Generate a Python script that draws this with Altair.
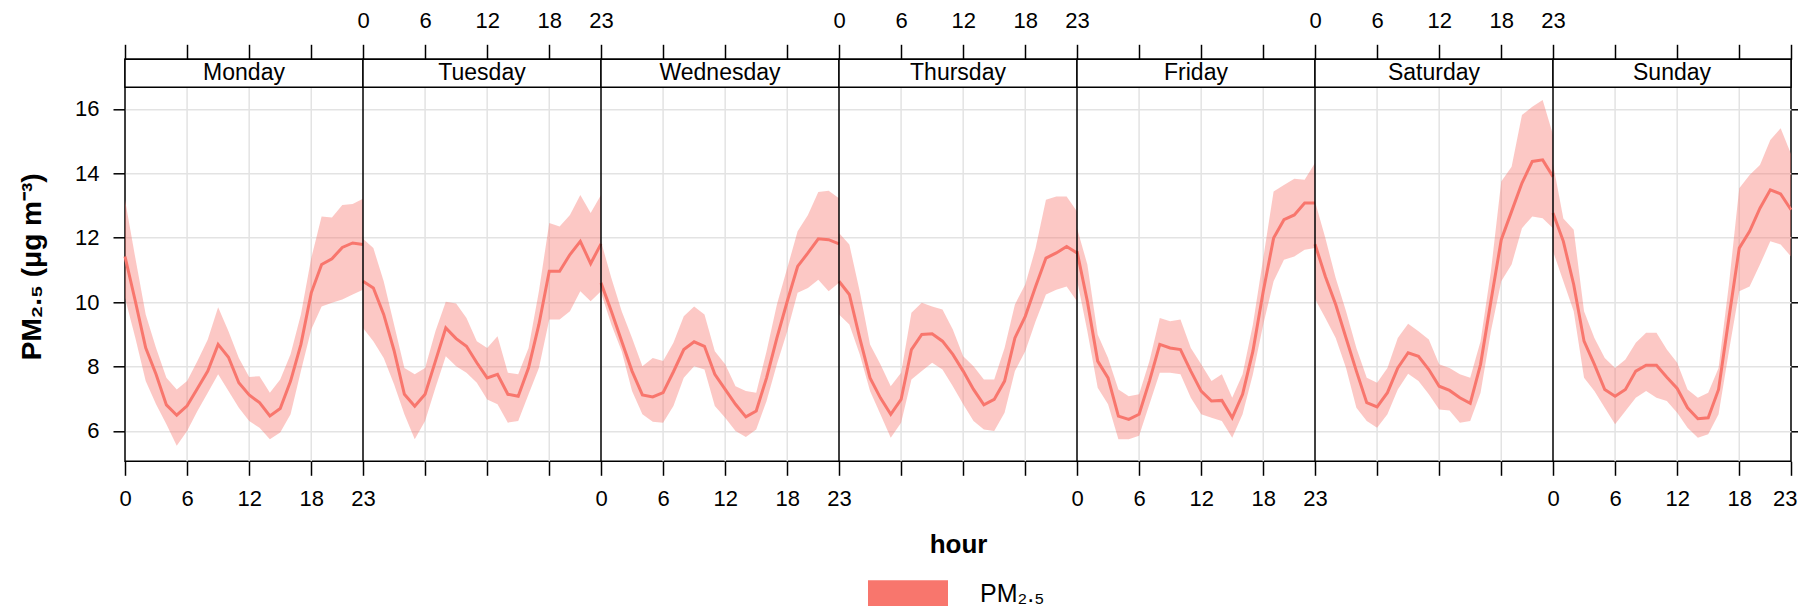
import altair as alt
import pandas as pd

DAYS = ["Monday", "Tuesday", "Wednesday", "Thursday", "Friday", "Saturday", "Sunday"]
HOURS = list(range(24))
SERIES = "PM₂.₅"
COLOR = "#F8766D"

MON_MEAN = [11.42, 10.03, 8.58, 7.76, 6.81, 6.49, 6.78, 7.32, 7.86, 8.69, 8.29, 7.50, 7.12, 6.88, 6.47, 6.70, 7.55, 8.69, 10.29, 11.17, 11.35, 11.70, 11.84, 11.79]
MON_LO = [10.13, 8.89, 7.55, 6.83, 6.21, 5.54, 6.00, 6.62, 7.19, 7.76, 7.24, 6.72, 6.31, 6.10, 5.74, 5.95, 6.52, 7.86, 9.15, 9.87, 9.98, 10.08, 10.24, 10.39]
MON_HI = [13.18, 11.37, 9.62, 8.58, 7.65, 7.29, 7.55, 8.17, 8.84, 9.84, 9.10, 8.27, 7.68, 7.70, 7.19, 7.60, 8.38, 9.62, 11.37, 12.66, 12.63, 13.02, 13.05, 13.21]

TUE_MEAN = [10.65, 10.44, 9.62, 8.50, 7.14, 6.77, 7.14, 8.17, 9.20, 8.87, 8.63, 8.12, 7.65, 7.76, 7.14, 7.08, 7.96, 9.31, 10.96, 10.96, 11.48, 11.89, 11.20, 11.81]
TUE_LO = [9.20, 8.79, 8.27, 7.45, 6.52, 5.74, 6.31, 7.34, 8.32, 8.01, 7.81, 7.50, 6.98, 6.83, 6.26, 6.31, 7.14, 7.96, 9.46, 9.46, 9.72, 10.34, 10.03, 10.34]
TUE_HI = [11.97, 11.68, 10.65, 9.31, 7.96, 7.76, 7.96, 9.10, 10.01, 9.96, 9.51, 8.79, 8.58, 8.94, 7.81, 7.76, 8.58, 10.34, 12.46, 12.35, 12.71, 13.33, 12.77, 13.33]

WED_MEAN = [10.60, 9.72, 8.79, 7.86, 7.12, 7.06, 7.19, 7.84, 8.53, 8.77, 8.63, 7.76, 7.29, 6.83, 6.44, 6.62, 7.65, 8.89, 10.03, 11.11, 11.53, 11.97, 11.94, 11.81]
WED_LO = [10.29, 9.31, 8.48, 7.24, 6.52, 6.29, 6.26, 6.78, 7.65, 8.01, 7.91, 6.78, 6.41, 6.00, 5.81, 6.05, 6.93, 8.07, 9.10, 10.29, 10.44, 10.70, 10.34, 10.60]
WED_HI = [11.89, 10.75, 9.72, 8.89, 8.01, 8.27, 8.17, 8.74, 9.56, 9.87, 9.62, 8.48, 8.07, 7.39, 7.24, 7.19, 8.48, 9.93, 11.06, 12.20, 12.71, 13.42, 13.46, 13.23]

THU_MEAN = [10.65, 10.24, 8.89, 7.65, 7.03, 6.52, 6.98, 8.53, 9.00, 9.02, 8.79, 8.38, 7.86, 7.29, 6.81, 6.98, 7.55, 8.89, 9.56, 10.49, 11.37, 11.53, 11.73, 11.53]
THU_LO = [9.62, 9.31, 8.38, 7.24, 6.52, 5.79, 6.26, 7.60, 7.86, 8.12, 7.91, 7.39, 6.83, 6.31, 6.05, 6.00, 6.57, 7.86, 8.48, 9.41, 10.24, 10.39, 10.49, 10.03]
THU_HI = [12.15, 11.79, 10.34, 8.69, 8.07, 7.39, 7.81, 9.67, 9.98, 9.87, 9.77, 9.15, 8.32, 8.01, 7.60, 7.60, 8.58, 9.93, 10.55, 11.68, 13.18, 13.28, 13.28, 12.82]

FRI_MEAN = [11.58, 10.03, 8.17, 7.65, 6.46, 6.36, 6.52, 7.55, 8.69, 8.58, 8.53, 7.86, 7.24, 6.93, 6.95, 6.41, 7.14, 8.48, 10.34, 11.99, 12.56, 12.71, 13.08, 13.08]
FRI_LO = [10.70, 9.10, 7.34, 6.83, 5.74, 5.74, 5.85, 6.83, 7.81, 7.81, 7.76, 7.03, 6.52, 6.41, 6.31, 5.79, 6.52, 7.76, 9.31, 10.65, 11.32, 11.42, 11.63, 11.68]
FRI_HI = [12.30, 11.17, 9.00, 8.27, 7.29, 7.08, 7.14, 8.17, 9.51, 9.41, 9.46, 8.58, 8.07, 7.55, 7.76, 7.03, 7.76, 9.31, 11.37, 13.44, 13.64, 13.83, 13.80, 14.32]

SAT_MEAN = [11.80, 10.80, 9.93, 8.89, 7.86, 6.88, 6.75, 7.19, 7.96, 8.43, 8.32, 7.91, 7.39, 7.26, 7.03, 6.86, 8.07, 10.03, 11.94, 12.82, 13.70, 14.37, 14.42, 13.90]
SAT_LO = [10.10, 9.51, 8.89, 7.96, 6.72, 6.31, 6.10, 6.52, 7.29, 7.78, 7.55, 7.14, 6.67, 6.64, 6.26, 6.31, 7.19, 9.10, 10.65, 11.17, 12.30, 12.66, 12.61, 12.30]
SAT_HI = [13.13, 11.99, 10.75, 9.72, 8.58, 7.65, 7.50, 7.96, 8.89, 9.33, 9.10, 8.84, 8.07, 7.96, 7.76, 7.65, 8.79, 10.96, 13.75, 14.21, 15.81, 16.07, 16.28, 15.20]

SUN_MEAN = [12.77, 11.89, 10.55, 8.79, 8.07, 7.29, 7.08, 7.29, 7.86, 8.04, 8.04, 7.67, 7.32, 6.72, 6.38, 6.41, 7.29, 9.51, 11.68, 12.20, 12.92, 13.49, 13.36, 12.87]
SUN_LO = [11.58, 10.65, 9.72, 7.65, 7.24, 6.72, 6.21, 6.62, 7.03, 7.24, 7.03, 6.93, 6.57, 6.10, 5.79, 5.90, 6.52, 8.48, 10.34, 10.49, 11.17, 11.89, 11.79, 11.42]
SUN_HI = [14.30, 12.60, 12.25, 9.72, 8.89, 8.27, 7.96, 8.22, 8.74, 9.05, 9.05, 8.53, 8.12, 7.29, 7.03, 7.19, 7.96, 10.55, 13.54, 13.95, 14.26, 15.04, 15.40, 14.60]

MEANS = [MON_MEAN, TUE_MEAN, WED_MEAN, THU_MEAN, FRI_MEAN, SAT_MEAN, SUN_MEAN]
LOWS = [MON_LO, TUE_LO, WED_LO, THU_LO, FRI_LO, SAT_LO, SUN_LO]
HIGHS = [MON_HI, TUE_HI, WED_HI, THU_HI, FRI_HI, SAT_HI, SUN_HI]

HOUR_TICKS = [0, 6, 12, 18, 23]
GRID_HOURS = [6, 12, 18]
BOTTOM_LABEL_DAYS = [0, 2, 4, 6]
TOP_LABEL_DAYS = [1, 3, 5]
Y_TICKS = [6, 8, 10, 12, 14, 16]
Y_DOMAIN = [5.059, 17.543]

# layout (pixels)
SPAN = 23
PLOT_W = 1666
PLOT_H = 402
STRIP_PX = 28
PAD_LEFT, PAD_TOP, PAD_RIGHT = 117, 51.3, 7
TOTAL_H = 598
FONT = "Liberation Sans"

rows = []
for d, day in enumerate(DAYS):
    for h in HOURS:
        rows.append({"day": day, "x": d * SPAN + h, "mean": MEANS[d][h],
                     "lower": LOWS[d][h], "upper": HIGHS[d][h], "series": SERIES})
df = pd.DataFrame(rows)

grid_df = pd.DataFrame({"gx": [d * SPAN + h for d in range(7) for h in GRID_HOURS]})
sep_df = pd.DataFrame({"bx": [d * SPAN for d in range(1, 7)]})
strip_df = pd.DataFrame({"day": DAYS,
                         "start": [d * SPAN for d in range(7)],
                         "end": [(d + 1) * SPAN for d in range(7)],
                         "mid": [d * SPAN + SPAN / 2 for d in range(7)]})

TICK_POS = sorted({d * SPAN + h for d in range(7) for h in HOUR_TICKS})


def label_expr(days):
    pos, lab = [], []
    for d in days:
        for h in HOUR_TICKS:
            pos.append(d * SPAN + h)
            lab.append(str(h))
    return f"indexof({pos}, datum.value) < 0 ? '' : {lab}[indexof({pos}, datum.value)]"


xs = alt.Scale(domain=[0, 7 * SPAN], nice=False, zero=False)
ys = alt.Scale(domain=Y_DOMAIN, nice=False, zero=False)

common_x = dict(values=TICK_POS, labelFontSize=22, labelColor="black", tickColor="black",
                tickWidth=1.5, grid=False, domain=False, labelOverlap=False)

bottom_axis = alt.Axis(orient="bottom", labelExpr=label_expr(BOTTOM_LABEL_DAYS), tickSize=14,
                       labelPadding=13, labelFlush=True, labelFlushOffset=6,
                       title="hour", titleFontSize=26, titleFontWeight="bold",
                       titleColor="black", titleY=90.7, titleBaseline="alphabetic", **common_x)
top_axis = alt.Axis(orient="top", labelExpr=label_expr(TOP_LABEL_DAYS), tickSize=15,
                    labelPadding=12, labelFlush=False, title=None, **common_x)
left_axis = alt.Axis(orient="left", values=Y_TICKS, grid=True, gridColor="#E3E3E3", gridWidth=1.5,
                     tickSize=12, labelPadding=14, labelFontSize=22, labelColor="black",
                     tickColor="black", tickWidth=1.5, domain=False,
                     title="PM₂.₅ (μg m⁻³)", titleFontSize=28, titleFontWeight="bold",
                     titleColor="black", titleX=-84.7, titleY=207, titleBaseline="alphabetic")
right_axis = alt.Axis(orient="right", values=Y_TICKS, grid=False, labels=False, tickSize=15,
                      tickColor="black", tickWidth=1.5, domain=False, title=None)

legend = alt.Legend(orient="none", legendX=743, legendY=495, title=None,
                    symbolType="M-1,-0.35H1V0.35H-1Z", symbolSize=6400, symbolStrokeWidth=0,
                    symbolOpacity=1, labelFontSize=25, labelOffset=32, padding=0,
                    labelColor="black", labelFont=FONT)

grid = alt.Chart(grid_df).mark_rule(color="#E3E3E3", strokeWidth=1.5).encode(
    x=alt.X("gx:Q", scale=xs, axis=None), y=alt.value(STRIP_PX), y2=alt.value(PLOT_H))

area = alt.Chart(df).mark_area(opacity=0.4).encode(
    x=alt.X("x:Q", scale=xs, axis=bottom_axis),
    y=alt.Y("lower:Q", scale=ys, axis=left_axis),
    y2="upper:Q",
    detail="day:N",
    color=alt.Color("series:N", scale=alt.Scale(domain=[SERIES], range=[COLOR]), legend=legend))

line = alt.Chart(df).mark_line(color=COLOR, strokeWidth=3).encode(
    x=alt.X("x:Q", scale=xs, axis=top_axis),
    y=alt.Y("mean:Q", scale=ys, axis=right_axis),
    detail="day:N")

sep = alt.Chart(sep_df).mark_rule(color="black", strokeWidth=1.5).encode(
    x=alt.X("bx:Q", scale=xs, axis=None), y=alt.value(0), y2=alt.value(PLOT_H))

strip_rect = alt.Chart(strip_df).mark_rect(fill="white", stroke="black", strokeWidth=1.5).encode(
    x=alt.X("start:Q", scale=xs, axis=None), x2="end:Q",
    y=alt.value(0), y2=alt.value(STRIP_PX))

strip_text = alt.Chart(strip_df).mark_text(fontSize=23, baseline="middle", color="black",
                                           font=FONT).encode(
    x=alt.X("mid:Q", scale=xs, axis=None), y=alt.value(STRIP_PX / 2), text="day:N")

chart = alt.layer(grid, area, line, sep, strip_rect, strip_text).properties(
    width=PLOT_W, height=PLOT_H,
    autosize=alt.AutoSizeParams(type="none"),
    padding={"left": PAD_LEFT, "top": PAD_TOP, "right": PAD_RIGHT,
             "bottom": TOTAL_H - PAD_TOP - PLOT_H},
).configure(font=FONT).configure_view(stroke="black", strokeWidth=1.5)

chart.save("out.html", embed_options={"renderer": "svg", "actions": False})
